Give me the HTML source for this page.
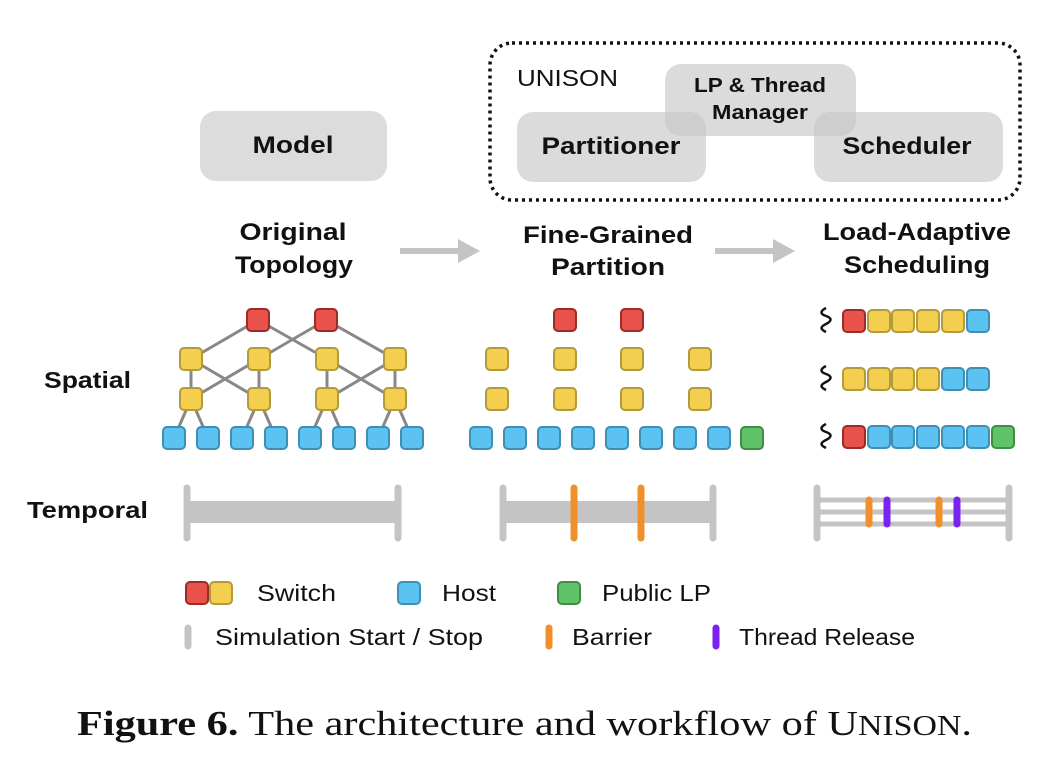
<!DOCTYPE html>
<html><head><meta charset="utf-8"><style>
html,body{margin:0;padding:0;background:#fff;}
svg{display:block;}
.t{font-family:"Liberation Sans",sans-serif;font-weight:bold;fill:#111;}
.n{font-family:"Liberation Sans",sans-serif;fill:#111;}
</style></head><body>
<svg width="1046" height="775" viewBox="0 0 1046 775" xmlns="http://www.w3.org/2000/svg">
<defs>
<g id="R"><rect x="-11" y="-11" width="22" height="22" rx="4" fill="#e8524a" stroke="#9b2c26" stroke-width="2"/></g>
<g id="Y"><rect x="-11" y="-11" width="22" height="22" rx="4" fill="#f4cf4f" stroke="#b39a3a" stroke-width="2"/></g>
<g id="B"><rect x="-11" y="-11" width="22" height="22" rx="4" fill="#5bc2f2" stroke="#3f8fb5" stroke-width="2"/></g>
<g id="G"><rect x="-11" y="-11" width="22" height="22" rx="4" fill="#60c36a" stroke="#3e8f45" stroke-width="2"/></g>
<path id="S" d="M0 0c-6 3 -6 6 0 8s6 5 0 8s-6 5 0 8" fill="none" stroke="#111" stroke-width="2.5"/>
</defs>
<!-- UNISON box -->
<rect x="490" y="43" width="530" height="157" rx="22" fill="none" stroke="#111" stroke-width="3.5" stroke-dasharray="3,4"/>
<text x="517" y="86" class="n" font-size="23" textLength="101" lengthAdjust="spacingAndGlyphs">UNISON</text>
<rect x="200" y="111" width="187" height="70" rx="16" fill="#dcdcdc"/>
<text x="293" y="153" class="t" font-size="24" text-anchor="middle" textLength="81" lengthAdjust="spacingAndGlyphs">Model</text>
<rect x="517" y="112" width="189" height="70" rx="16" fill="#c8c8c8" fill-opacity="0.65"/>
<rect x="814" y="112" width="189" height="70" rx="16" fill="#c8c8c8" fill-opacity="0.65"/>
<rect x="665" y="64" width="191" height="72" rx="16" fill="#c8c8c8" fill-opacity="0.65"/>
<text x="760" y="92" class="t" font-size="20" text-anchor="middle" textLength="132" lengthAdjust="spacingAndGlyphs">LP &amp; Thread</text>
<text x="760" y="119" class="t" font-size="20" text-anchor="middle" textLength="96" lengthAdjust="spacingAndGlyphs">Manager</text>
<text x="611" y="154" class="t" font-size="24" text-anchor="middle" textLength="139" lengthAdjust="spacingAndGlyphs">Partitioner</text>
<text x="907" y="154" class="t" font-size="24" text-anchor="middle" textLength="129" lengthAdjust="spacingAndGlyphs">Scheduler</text>
<!-- titles -->
<text x="293" y="240" class="t" font-size="24" text-anchor="middle" textLength="107" lengthAdjust="spacingAndGlyphs">Original</text>
<text x="294" y="273" class="t" font-size="24" text-anchor="middle" textLength="118" lengthAdjust="spacingAndGlyphs">Topology</text>
<text x="608" y="243" class="t" font-size="24" text-anchor="middle" textLength="170" lengthAdjust="spacingAndGlyphs">Fine-Grained</text>
<text x="608" y="275" class="t" font-size="24" text-anchor="middle" textLength="114" lengthAdjust="spacingAndGlyphs">Partition</text>
<text x="917" y="240" class="t" font-size="24" text-anchor="middle" textLength="188" lengthAdjust="spacingAndGlyphs">Load-Adaptive</text>
<text x="917" y="273" class="t" font-size="24" text-anchor="middle" textLength="146" lengthAdjust="spacingAndGlyphs">Scheduling</text>
<path d="M400 251H462" stroke="#c4c4c4" stroke-width="6"/><path d="M458 239L480 251L458 263Z" fill="#c4c4c4"/>
<path d="M715 251H777" stroke="#c4c4c4" stroke-width="6"/><path d="M773 239L795 251L773 263Z" fill="#c4c4c4"/>
<text x="44" y="388" class="t" font-size="23" textLength="87" lengthAdjust="spacingAndGlyphs">Spatial</text>
<text x="27" y="518" class="t" font-size="23" textLength="121" lengthAdjust="spacingAndGlyphs">Temporal</text>
<!-- topology lines -->
<g stroke="#888" stroke-width="3">
<path d="M258 320L191 359M258 320L327 359M326 320L259 359M326 320L395 359"/>
<path d="M191 359V399M259 359V399M327 359V399M395 359V399M191 359L259 399M259 359L191 399M327 359L395 399M395 359L327 399"/>
<path d="M191 399L174 438M191 399L208 438M259 399L242 438M259 399L276 438M327 399L310 438M327 399L344 438M395 399L378 438M395 399L412 438"/>
</g>
<use href="#R" x="258" y="320"/><use href="#R" x="326" y="320"/>
<use href="#Y" x="191" y="359"/><use href="#Y" x="259" y="359"/><use href="#Y" x="327" y="359"/><use href="#Y" x="395" y="359"/>
<use href="#Y" x="191" y="399"/><use href="#Y" x="259" y="399"/><use href="#Y" x="327" y="399"/><use href="#Y" x="395" y="399"/>
<use href="#B" x="174" y="438"/><use href="#B" x="208" y="438"/><use href="#B" x="242" y="438"/><use href="#B" x="276" y="438"/><use href="#B" x="310" y="438"/><use href="#B" x="344" y="438"/><use href="#B" x="378" y="438"/><use href="#B" x="412" y="438"/>
<!-- fine grained -->
<use href="#R" x="565" y="320"/><use href="#R" x="632" y="320"/>
<use href="#Y" x="497" y="359"/><use href="#Y" x="565" y="359"/><use href="#Y" x="632" y="359"/><use href="#Y" x="700" y="359"/>
<use href="#Y" x="497" y="399"/><use href="#Y" x="565" y="399"/><use href="#Y" x="632" y="399"/><use href="#Y" x="700" y="399"/>
<use href="#B" x="481" y="438"/><use href="#B" x="515" y="438"/><use href="#B" x="549" y="438"/><use href="#B" x="583" y="438"/><use href="#B" x="617" y="438"/><use href="#B" x="651" y="438"/><use href="#B" x="685" y="438"/><use href="#B" x="719" y="438"/><use href="#G" x="752" y="438"/>
<!-- scheduling -->
<use href="#S" x="826" y="308"/>
<use href="#S" x="826" y="366"/>
<use href="#S" x="826" y="424"/>
<use href="#R" x="854" y="321"/><use href="#Y" x="879" y="321"/><use href="#Y" x="903" y="321"/><use href="#Y" x="928" y="321"/><use href="#Y" x="953" y="321"/><use href="#B" x="978" y="321"/>
<use href="#Y" x="854" y="379"/><use href="#Y" x="879" y="379"/><use href="#Y" x="903" y="379"/><use href="#Y" x="928" y="379"/><use href="#B" x="953" y="379"/><use href="#B" x="978" y="379"/>
<use href="#R" x="854" y="437"/><use href="#B" x="879" y="437"/><use href="#B" x="903" y="437"/><use href="#B" x="928" y="437"/><use href="#B" x="953" y="437"/><use href="#B" x="978" y="437"/><use href="#G" x="1003" y="437"/>
<!-- temporal -->
<rect x="187" y="501" width="211" height="22" fill="#c4c4c4"/>
<g stroke="#c4c4c4" stroke-width="7" stroke-linecap="round">
<path d="M187 488V538M398 488V538M503 488V538M713 488V538M817 488V538M1009 488V538"/>
</g>
<rect x="503" y="501" width="210" height="22" fill="#c4c4c4"/>
<g stroke="#c4c4c4" stroke-width="5"><path d="M817 500H1009M817 512H1009M817 524H1009"/></g>
<g stroke-width="7" stroke-linecap="round">
<path d="M574 488V538M641 488V538" stroke="#f0902a"/>
<path d="M869 500V524M939 500V524" stroke="#f0902a"/>
<path d="M887 500V524M957 500V524" stroke="#7a22f0"/>
</g>
<!-- legend -->
<use href="#R" x="197" y="593"/><use href="#Y" x="221" y="593"/>
<text x="257" y="601" class="n" font-size="23" textLength="79" lengthAdjust="spacingAndGlyphs">Switch</text>
<use href="#B" x="409" y="593"/><text x="442" y="601" class="n" font-size="23" textLength="54" lengthAdjust="spacingAndGlyphs">Host</text>
<use href="#G" x="569" y="593"/><text x="602" y="601" class="n" font-size="23" textLength="109" lengthAdjust="spacingAndGlyphs">Public LP</text>
<g stroke-width="7" stroke-linecap="round">
<path d="M188 628V646" stroke="#c4c4c4"/><path d="M549 628V646" stroke="#f0902a"/><path d="M716 628V646" stroke="#7a22f0"/>
</g>
<text x="215" y="645" class="n" font-size="23" textLength="268" lengthAdjust="spacingAndGlyphs">Simulation Start / Stop</text>
<text x="572" y="645" class="n" font-size="23" textLength="80" lengthAdjust="spacingAndGlyphs">Barrier</text>
<text x="739" y="645" class="n" font-size="23" textLength="176" lengthAdjust="spacingAndGlyphs">Thread Release</text>
<text x="77" y="735" font-family="Liberation Serif,serif" font-size="35" fill="#111" textLength="895" lengthAdjust="spacingAndGlyphs"><tspan font-weight="bold">Figure 6.</tspan> The architecture and workflow of U<tspan font-size="28">NISON</tspan>.</text>
</svg>
</body></html>
